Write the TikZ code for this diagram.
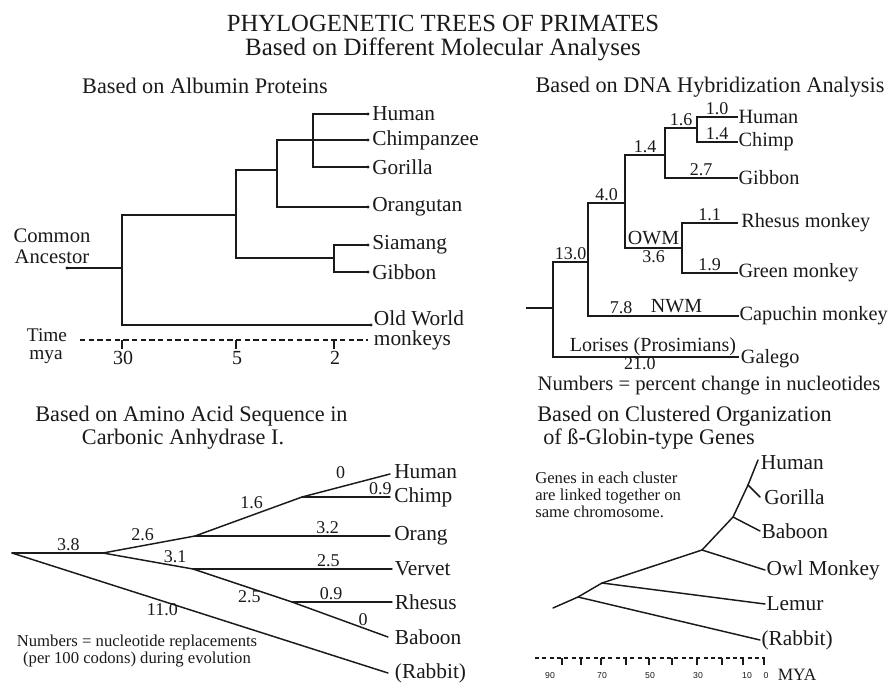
\documentclass[tikz,border=0pt]{standalone}
\usepackage{fontspec}
\setmainfont{Liberation Serif}
\newfontfamily\axisfont{Liberation Sans}
\usetikzlibrary{positioning}
\definecolor{treeInk}{HTML}{1A1A1A}

\begin{document}
\begin{tikzpicture}[x=0.75pt, y=-0.75pt, text=treeInk,
    branch/.style={draw=treeInk, line width=1.1pt, line cap=rect},
    diag/.style={draw=treeInk, line width=1.1pt, line cap=round},
    leaf/.style={font=\fontsize{16}{18}\selectfont, inner sep=1pt},
    dleaf/.style={font=\fontsize{15.2}{17}\selectfont, inner sep=1pt},
    brlen/.style={font=\fontsize{13.5}{15}\selectfont, inner sep=1.5pt},
    grp/.style={font=\fontsize{15}{16}\selectfont, inner sep=1.5pt},
    panel/.style={font=\fontsize{16.7}{17.3}\selectfont, align=left, inner sep=0pt},
    axtick/.style={draw=treeInk, line width=.8pt}]
  \fill[white] (0,0) rectangle (891,686);
  \useasboundingbox (0,0) rectangle (891,686);

  \node[align=center, inner sep=0pt] (title) at (443,38) {%
    \fontsize{18.5}{19}\selectfont PHYLOGENETIC TREES OF PRIMATES\\[3pt]
    \fontsize{18.7}{19}\selectfont Based on Different Molecular Analyses};

  % albumin
  \node[panel] (tAlb) at (205,86) {Based on Albumin Proteins};
  \coordinate (anc) at (67,268);
  \coordinate (a30) at (122,268);
  \coordinate (a30t) at (122,215);
  \coordinate (a30b) at (122,325);
  \coordinate (a5) at (236,215);
  \coordinate (a5t) at (236,170);
  \coordinate (a5b) at (236,258);
  \coordinate (a3) at (277,170);
  \coordinate (a3t) at (277,140);
  \coordinate (a3b) at (277,207);
  \coordinate (a2t) at (313,114);
  \coordinate (a2b) at (313,167);
  \coordinate (agib) at (334,258);
  \coordinate (agibt) at (334,245);
  \coordinate (agibb) at (334,272);
  \coordinate (tHuman) at (368,114);
  \coordinate (tChimp) at (368,140);
  \coordinate (tGorilla) at (368,167);
  \coordinate (tOrang) at (368,207);
  \coordinate (tSiamang) at (368,245);
  \coordinate (tGibbon) at (368,272);
  \coordinate (tOwm) at (371,325);
  \draw[branch] (anc) -- (a30) (a30t) -- (a30b) (a30t) -- (a5) (a5t) -- (a5b)
    (a5t) -- (a3) (a3t) -- (a3b) (a3t) -- (tChimp) (a3b) -- (tOrang)
    (a2t) -- (a2b) (a2t) -- (tHuman) (a2b) -- (tGorilla)
    (a5b) -- (agib) (agibt) -- (agibb) (agibt) -- (tSiamang) (agibb) -- (tGibbon)
    (a30b) -- (tOwm);
  \foreach \t in {anc,tHuman,tChimp,tGorilla,tOrang,tSiamang,tGibbon,tOwm}
    \fill[treeInk] (\t) circle (1.7);
  \node[leaf, right=2pt of tHuman] (lHuman) {Human};
  \node[leaf, right=2pt of tChimp] (lChimp) {Chimpanzee};
  \node[leaf, right=2pt of tGorilla] (lGorilla) {Gorilla};
  \node[leaf, right=2pt of tOrang] (lOrang) {Orangutan};
  \node[leaf, right=2pt of tSiamang] (lSiamang) {Siamang};
  \node[leaf, right=2pt of tGibbon] (lGibbon) {Gibbon};
  \node[leaf, right=1pt of tOwm, yshift=-4pt, align=left, font=\fontsize{16}{15}\selectfont] (lOwm) {Old World\\monkeys};
  \node[leaf, align=center, font=\fontsize{15.5}{16}\selectfont] (lAnc) at (52,246) {Common\\Ancestor};
  \draw[axtick, dash pattern=on 4pt off 2.5pt] (80,340) coordinate (axL) -- (368,340) coordinate (axR);
  \foreach \x/\lab in {122/30, 236/5, 334/2} {
    \draw[axtick] (\x,340) -- ++(0,9);
    \node[leaf, font=\fontsize{15}{16}\selectfont] (ax\lab) at (\x+1,358) {\lab};
  }
  \node[leaf, inner sep=0pt, font=\fontsize{14.5}{16}\selectfont] (lTime) at (47,335) {Time};
  \node[leaf, inner sep=0pt, font=\fontsize{14.5}{16}\selectfont] (lMya) at (46,357) {mya};

  % dna hybridization
  \node[panel] (tDna) at (710,87) {Based on DNA Hybridization Analysis};
  \coordinate (dRoot) at (527,308);
  \coordinate (d13) at (553,308);
  \coordinate (d13t) at (553,262);
  \coordinate (d13b) at (553,357);
  \coordinate (d4) at (588,262);
  \coordinate (d4t) at (588,203);
  \coordinate (d4b) at (588,316);
  \coordinate (d14) at (625,203);
  \coordinate (d14t) at (625,155);
  \coordinate (d14b) at (625,248);
  \coordinate (d16) at (665,155);
  \coordinate (d16t) at (665,128);
  \coordinate (d16b) at (665,178);
  \coordinate (d10) at (697,128);
  \coordinate (d10t) at (697,117);
  \coordinate (d10b) at (697,142);
  \coordinate (dOwm) at (682,248);
  \coordinate (dOwmt) at (682,223);
  \coordinate (dOwmb) at (682,273);
  \coordinate (dHuman) at (737,117);
  \coordinate (dChimp) at (737,142);
  \coordinate (dGibbon) at (737,178);
  \coordinate (dRhesus) at (737,223);
  \coordinate (dGreen) at (737,273);
  \coordinate (dCapu) at (738,316);
  \coordinate (dGalego) at (738,357);
  \draw[branch] (dRoot) -- (d13) (d13t) -- (d13b) (d4t) -- (d4b) (d14t) -- (d14b)
    (d16t) -- (d16b) (d10t) -- (d10b) (dOwmt) -- (dOwmb);
  \draw[branch] (d13t) -- node[brlen, above] (n130) {13.0} (d4);
  \draw[branch] (d4t) -- node[brlen, above] (n40) {4.0} (d14);
  \draw[branch] (d14t) -- node[brlen, above] (n14a) {1.4} (d16);
  \draw[branch] (d16t) -- node[brlen, above] (n16) {1.6} (d10);
  \draw[branch] (d10t) -- node[brlen, above] (n10) {1.0} (dHuman);
  \draw[branch] (d10b) -- node[brlen, above] (n14b) {1.4} (dChimp);
  \draw[branch] (d16b) -- node[brlen, above] (n27) {2.7} (dGibbon);
  \draw[branch] (d14b) -- node[grp, above] (nOwm) {OWM} node[brlen, below] (n36) {3.6} (dOwm);
  \draw[branch] (dOwmt) -- node[brlen, above] (n11) {1.1} (dRhesus);
  \draw[branch] (dOwmb) -- node[brlen, above] (n19) {1.9} (dGreen);
  \draw[branch] (d4b) -- node[brlen, above, pos=.22] (n78) {7.8} node[grp, above, pos=.59] (nNwm) {NWM} (dCapu);
  \draw[branch] (d13b) -- node[grp, above, pos=.54, inner sep=.5pt] (nLor) {Lorises (Prosimians)} node[brlen, below, pos=.47, inner sep=0pt] (n210) {21.0} (dGalego);
  \node[dleaf, right=0pt of dHuman] (eHuman) {Human};
  \node[dleaf, right=0pt of dChimp] (eChimp) {Chimp};
  \node[dleaf, right=0pt of dGibbon] (eGibbon) {Gibbon};
  \node[dleaf, right=2pt of dRhesus] (eRhesus) {Rhesus monkey};
  \node[dleaf, right=0pt of dGreen] (eGreen) {Green monkey};
  \node[dleaf, right=0pt of dCapu] (eCapu) {Capuchin monkey};
  \node[dleaf, right=1pt of dGalego, yshift=-1pt] (eGalego) {Galego};
  \node[leaf, inner sep=0pt, font=\fontsize{15.5}{16}\selectfont] (dNote) at (709,386) {Numbers = percent change in nucleotides};

  % carbonic anhydrase
  \node[panel, anchor=west] (tAmino) at (35,428) {Based on Amino Acid Sequence in\\\hspace{35pt}Carbonic Anhydrase I.};
  \coordinate (m0) at (12,553);
  \coordinate (m1) at (103,553);
  \coordinate (mOr) at (195,536);
  \coordinate (mCh) at (302,497);
  \coordinate (mVe) at (193,569);
  \coordinate (mRh) at (292,602);
  \coordinate (mHuman) at (390,474);
  \coordinate (mChimp) at (390,497);
  \coordinate (mOrang) at (390,536);
  \coordinate (mVervet) at (392,569);
  \coordinate (mRhesus) at (392,602);
  \coordinate (mBaboon) at (388,637);
  \coordinate (mRabbit) at (388,673);
  \draw[diag] (m0) -- node[brlen, above, pos=.62] (c38) {3.8} (m1);
  \draw[diag] (m1) -- node[brlen, above=2pt, pos=.43] (c26) {2.6} (mOr);
  \draw[diag] (mOr) -- node[brlen, above=3pt, pos=.53] (c16) {1.6} (mCh);
  \draw[diag] (mCh) -- node[brlen, above=4pt, pos=.44] (c0a) {0} (mHuman);
  \draw[diag] (mCh) -- node[brlen, above, pos=.89] (c09a) {0.9} (mChimp);
  \draw[diag] (mOr) -- node[brlen, above, pos=.68] (c32) {3.2} (mOrang);
  \draw[diag] (m1) -- node[brlen, above, pos=.8] (c31) {3.1} (mVe);
  \draw[diag] (mVe) -- node[brlen, above, pos=.68] (c25a) {2.5} (mVervet);
  \draw[diag] (mVe) -- node[brlen, below, pos=.57] (c25b) {2.5} (mRh);
  \draw[diag] (mRh) -- node[brlen, above, pos=.39] (c09b) {0.9} (mRhesus);
  \draw[diag] (mRh) -- node[brlen, above, pos=.74] (c0b) {0} (mBaboon);
  \draw[diag] (m0) -- node[brlen, below, pos=.4] (c110) {11.0} (mRabbit);
  \node[leaf, right=2pt of mHuman, yshift=2pt] (kHuman) {Human};
  \node[leaf, right=2pt of mChimp] (kChimp) {Chimp};
  \node[leaf, right=2pt of mOrang] (kOrang) {Orang};
  \node[leaf, right=1pt of mVervet] (kVervet) {Vervet};
  \node[leaf, right=1pt of mRhesus] (kRhesus) {Rhesus};
  \node[leaf, right=4pt of mBaboon] (kBaboon) {Baboon};
  \node[leaf, right=4pt of mRabbit] (kRabbit) {(Rabbit)};
  \node[leaf, align=center, font=\fontsize{12.5}{10}\selectfont] (mNote) at (137,651) {Numbers = nucleotide replacements\\(per 100 codons) during evolution};

  % beta globin
  \node[panel, anchor=west] (tGlob) at (537,428) {Based on Clustered Organization\\\hspace{4.5pt}of ß-Globin-type Genes};
  \node[leaf, anchor=west, align=left, inner sep=0pt, font=\fontsize{12.5}{12.75}\selectfont] (gNote) at (535,495) {Genes in each cluster\\are linked together on\\same chromosome.};
  \coordinate (g0) at (553,608);
  \coordinate (g1) at (578,597);
  \coordinate (g2) at (602,583);
  \coordinate (g3) at (702,550);
  \coordinate (g4) at (733,517);
  \coordinate (g5) at (748,485);
  \coordinate (gHuman) at (758,460);
  \coordinate (gGorilla) at (760,497);
  \coordinate (gBaboon) at (760,531);
  \coordinate (gOwl) at (765,570);
  \coordinate (gLemur) at (765,604);
  \coordinate (gRabbit) at (760,640);
  \draw[diag, line join=round] (g0) -- (g1) -- (g2) -- (g3) -- (g4) -- (g5) -- (gHuman);
  \draw[diag] (g5) -- (gGorilla) (g4) -- (gBaboon) (g3) -- (gOwl) (g2) -- (gLemur) (g1) -- (gRabbit);
  \node[leaf, right=1pt of gHuman, yshift=-2pt] (hHuman) {Human};
  \node[leaf, right=2pt of gGorilla] (hGorilla) {Gorilla};
  \node[leaf, right=0pt of gBaboon] (hBaboon) {Baboon};
  \node[leaf, right=0pt of gOwl] (hOwl) {Owl Monkey};
  \node[leaf, right=0pt of gLemur] (hLemur) {Lemur};
  \node[leaf, right=0pt of gRabbit] (hRabbit) {(Rabbit)};
  \draw[axtick, dash pattern=on 3pt off 2.5pt] (535,658) coordinate (gaxL) -- (765,658) coordinate (gaxR);
  \foreach \x in {562,581,601,626,649,672,697,722,743,764}
    \draw[axtick] (\x,658) -- ++(0,7);
  \foreach \x/\lab in {550/90, 602/70, 650/50, 698/30, 747/10, 766/0}
    \node[inner sep=0pt, font=\axisfont\fontsize{6.5}{7}\selectfont] (gy\lab) at (\x,676) {\lab};
  \node[leaf, font=\fontsize{13}{14}\selectfont] (gMya) at (797,675) {MYA};
\end{tikzpicture}
\end{document}
